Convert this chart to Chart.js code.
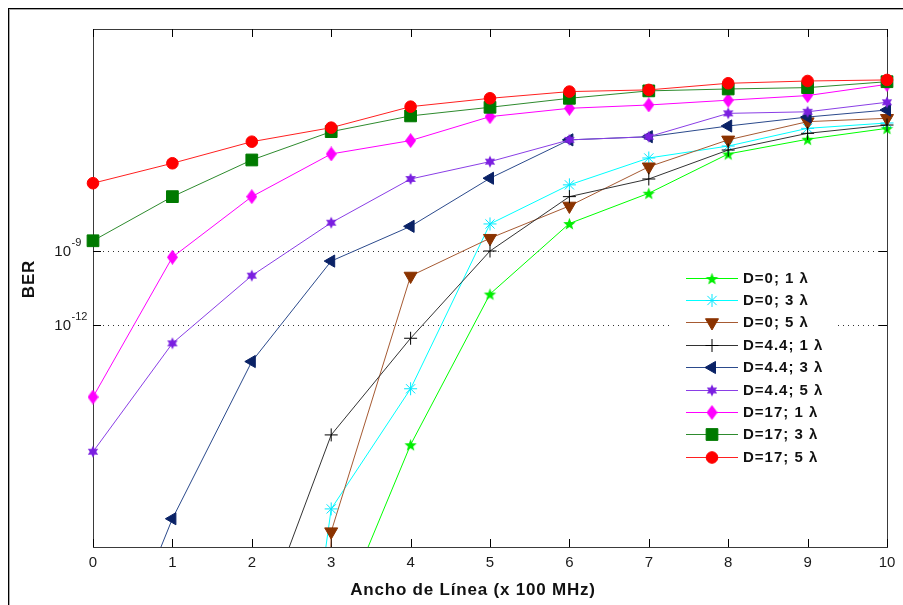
<!DOCTYPE html>
<html>
<head>
<meta charset="utf-8">
<script src="https://cdn.jsdelivr.net/npm/chart.js@4/dist/chart.umd.min.js"></script>
<style>
  html, body { margin: 0; padding: 0; background: #fff; }
  #wrap { position: relative; width: 903px; height: 605px; }
</style>
</head>
<body>
<div id="wrap"><canvas id="berChart" width="903" height="605"></canvas></div>
<script>
// Ancho de línea (x 100 MHz)
const anchoLinea = [0, 1, 2, 3, 4, 5, 6, 7, 8, 9, 10];
const yTicks = [1e-12, 1e-9];

// BER (null = fuera del gráfico)
const berD0L1  = [null, null, null, 2.5e-25, 1.4e-17, 1.8e-11, 1.3e-8, 2.2e-7, 8.6e-6, 3.4e-5, 9.4e-5];
const berD0L3  = [null, null, 3e-43, 3.5e-20, 2.6e-15, 1.25e-8, 4.8e-7, 5.9e-6, 1.8e-5, 9.4e-5, 1.55e-4];
const berD0L5  = [null, null, 1e-150, 4.2e-21, 9.7e-11, 3.3e-9, 6.7e-8, 2.6e-6, 3.2e-5, 1.75e-4, 2.4e-4];
const berD44L1 = [null, null, 8.7e-26, 3.5e-17, 2.9e-13, 1.0e-9, 1.6e-7, 8.3e-7, 1.24e-5, 5.9e-5, 1.28e-4];
const berD44L3 = [1.6e-28, 1.4e-20, 3.3e-14, 3.9e-10, 1.0e-8, 8.9e-7, 3.2e-5, 4.3e-5, 1.17e-4, 2.7e-4, 5.2e-4];
const berD44L5 = [7.3e-18, 1.8e-13, 1.0e-10, 1.4e-8, 8.3e-7, 4.2e-6, 3.2e-5, 4.3e-5, 3.8e-4, 4.4e-4, 1.07e-3];
const berD17L1 = [1.2e-15, 5.6e-10, 1.6e-7, 8.6e-6, 3.0e-5, 2.8e-4, 6.1e-4, 8.3e-4, 1.3e-3, 2.0e-3, 5.7e-3];
const berD17L3 = [2.6e-9, 1.6e-7, 4.9e-6, 6.9e-5, 3.0e-4, 6.7e-4, 1.55e-3, 3.1e-3, 3.7e-3, 4.2e-3, 7.3e-3];
const berD17L5 = [5.6e-7, 3.6e-6, 2.7e-5, 1.0e-4, 7.1e-4, 1.55e-3, 2.9e-3, 3.4e-3, 6.3e-3, 7.8e-3, 8.6e-3];

const serieNames = ['D=0; 1 λ', 'D=0; 3 λ', 'D=0; 5 λ', 'D=4.4; 1 λ', 'D=4.4; 3 λ',
                    'D=4.4; 5 λ', 'D=17; 1 λ', 'D=17; 3 λ', 'D=17; 5 λ'];

const FONT = '"Liberation Sans", Arial, sans-serif';

// marcadores tipo matlab que chart.js no trae
function makeStar(points, outer, inner, color) {
    const size = Math.ceil(outer * 2) + 2;
    const c = document.createElement('canvas');
    c.width = c.height = size;
    const g = c.getContext('2d');
    g.translate(size / 2, size / 2 + (points === 5 ? 0.8 : 0));
    g.beginPath();
    for (let i = 0; i < points * 2; i++) {
        const r = i % 2 ? inner : outer;
        const a = -Math.PI / 2 + i * Math.PI / points;
        g.lineTo(r * Math.cos(a), r * Math.sin(a));
    }
    g.closePath();
    g.fillStyle = color;
    g.fill();
    return c;
}
function makeDiamond(w, h, color) {
    const c = document.createElement('canvas');
    c.width = w; c.height = h;
    const g = c.getContext('2d');
    g.beginPath();
    g.moveTo(w / 2, 0); g.lineTo(w, h / 2); g.lineTo(w / 2, h); g.lineTo(0, h / 2);
    g.closePath();
    g.fillStyle = color;
    g.fill();
    return c;
}

const pentagram = makeStar(5, 6.5, 2.7, '#00ee00');
const hexagram = makeStar(6, 6, 3.2, '#7a1fe0');
const diamond = makeDiamond(11, 15, '#ff00ff');

function serie(i, data, line, marker, style, radius, rotation, bw) {
    return {
        label: serieNames[i],
        data: data,
        borderColor: line,
        borderWidth: 1,
        pointStyle: style,
        pointRadius: radius,
        pointRotation: rotation || 0,
        pointBackgroundColor: marker,
        pointBorderColor: marker,
        pointBorderWidth: bw || 1,
        tension: 0,
        order: 9 - i,
        clip: { left: 12, top: 12, right: 12, bottom: 0 }
    };
}

const datasets = [
    serie(0, berD0L1, '#00ff00', '#00ee00', pentagram, 6),
    serie(1, berD0L3, '#00ffff', '#00e8ff', 'star', 6.5),
    serie(2, berD0L5, '#a65a32', '#8b3300', 'triangle', 7.5, 180),
    serie(3, berD44L1, '#333333', '#000000', 'cross', 6.5),
    serie(4, berD44L3, '#2b4a8c', '#0a2266', 'triangle', 7, 270),
    serie(5, berD44L5, '#8a3ee6', '#7a1fe0', hexagram, 6),
    serie(6, berD17L1, '#ff00ff', '#ff00ff', diamond, 7),
    serie(7, berD17L3, '#2e8b2e', '#007a00', 'rect', 8.3),
    serie(8, berD17L5, '#ff2020', '#ff0000', 'circle', 5.8)
];

const figuraMatlab = {
    id: 'figuraMatlab',
    beforeDraw(chart) {
        const ctx = chart.ctx;
        ctx.save();
        ctx.fillStyle = '#fff';
        ctx.fillRect(0, 0, chart.width, chart.height);
        ctx.fillStyle = '#000';
        ctx.fillRect(8, 8, chart.width, 1);
        ctx.fillRect(8, 8, 1, chart.height);
        ctx.fillStyle = '#a8a8a8';
        ctx.fillRect(9, 9, chart.width, 1);
        ctx.fillRect(9, 9, 1, chart.height);
        ctx.restore();
    },
    beforeDatasetsDraw(chart) {
        const ctx = chart.ctx;
        const a = chart.chartArea;
        const xs = chart.scales.x, ys = chart.scales.y;
        ctx.save();
        // rejilla punteada
        ctx.strokeStyle = '#333';
        ctx.lineWidth = 1;
        ctx.setLineDash([1, 4]);
        yTicks.forEach(v => {
            const y = Math.round(ys.getPixelForValue(v)) + 0.5;
            ctx.beginPath(); ctx.moveTo(a.left, y); ctx.lineTo(a.right, y); ctx.stroke();
        });
        ctx.setLineDash([]);
        // caja
        ctx.strokeStyle = '#3a3a3a';
        ctx.strokeRect(Math.round(a.left) + 0.5, Math.round(a.top) + 0.5,
                       Math.round(a.right - a.left), Math.round(a.bottom - a.top));
        // marcas hacia adentro
        ctx.strokeStyle = '#000';
        ctx.beginPath();
        anchoLinea.forEach(v => {
            const x = Math.round(xs.getPixelForValue(v)) + 0.5;
            ctx.moveTo(x, a.bottom); ctx.lineTo(x, a.bottom - 8);
            ctx.moveTo(x, a.top); ctx.lineTo(x, a.top + 8);
        });
        yTicks.forEach(v => {
            const y = Math.round(ys.getPixelForValue(v)) + 0.5;
            ctx.moveTo(a.left, y); ctx.lineTo(a.left + 8, y);
            ctx.moveTo(a.right, y); ctx.lineTo(a.right - 8, y);
        });
        ctx.stroke();
        ctx.restore();
    },
    afterDatasetsDraw(chart) {
        // leyenda
        const ctx = chart.ctx;
        ctx.save();
        ctx.fillStyle = '#fff';
        ctx.fillRect(673, 264, 162, 206);
        chart.data.datasets.forEach((ds, i) => {
            const y = 277.5 + i * 22.4;
            ctx.strokeStyle = ds.borderColor;
            ctx.lineWidth = 1;
            ctx.beginPath(); ctx.moveTo(686, Math.round(y) + 0.5); ctx.lineTo(738, Math.round(y) + 0.5); ctx.stroke();
            ctx.fillStyle = ds.pointBackgroundColor;
            ctx.strokeStyle = ds.pointBorderColor;
            ctx.lineWidth = ds.pointBorderWidth;
            Chart.helpers.drawPoint(ctx, {
                pointStyle: ds.pointStyle, rotation: ds.pointRotation,
                radius: ds.pointRadius, borderWidth: ds.pointBorderWidth
            }, 712, Math.round(y) + 0.5);
            ctx.fillStyle = '#111';
            ctx.font = 'bold 15px ' + FONT;
            ctx.letterSpacing = '1px';
            ctx.textBaseline = 'middle';
            ctx.textAlign = 'left';
            ctx.fillText(ds.label, 743, y + 1);
        });
        ctx.restore();
    },
    afterDraw(chart) {
        const ctx = chart.ctx;
        const ys = chart.scales.y;
        ctx.save();
        ctx.fillStyle = '#1a1a1a';
        // etiquetas 10^n
        yTicks.forEach(v => {
            const y = ys.getPixelForValue(v);
            const exp = Math.round(Math.log10(v));
            ctx.font = '15px ' + FONT;
            ctx.textAlign = 'right';
            ctx.textBaseline = 'middle';
            ctx.fillText('10', 71, y + 1);
            ctx.font = '11px ' + FONT;
            ctx.textAlign = 'left';
            ctx.fillText('-' + Math.abs(exp), 71.5, y - 8);
        });
        // títulos
        ctx.fillStyle = '#111';
        ctx.font = 'bold 17px ' + FONT;
        ctx.letterSpacing = '0.8px';
        ctx.textAlign = 'center';
        ctx.textBaseline = 'middle';
        ctx.fillText('Ancho de Línea (x 100 MHz)', 473, 590);
        ctx.translate(29, 279);
        ctx.rotate(-Math.PI / 2);
        ctx.fillText('BER', 0, 0);
        ctx.restore();
    }
};

new Chart(document.getElementById('berChart'), {
    type: 'line',
    data: { labels: anchoLinea, datasets: datasets },
    options: {
        responsive: false,
        animation: false,
        events: [],
        devicePixelRatio: 1,
        layout: { padding: { top: 29, left: 0, right: 16, bottom: 0 } },
        plugins: { legend: { display: false }, tooltip: { enabled: false } },
        scales: {
            x: {
                type: 'linear',
                min: 0, max: 10,
                grid: { display: false, drawTicks: false },
                border: { display: false },
                ticks: { stepSize: 1, padding: 7, color: '#1a1a1a', font: { family: FONT, size: 15 } },
                afterFit(s) { s.height = 58; s.paddingLeft = 0; s.paddingRight = 0; }
            },
            y: {
                type: 'logarithmic',
                min: 1e-21, max: 1,
                grid: { display: false, drawTicks: false },
                border: { display: false },
                ticks: { display: false },
                afterFit(s) { s.width = 93; s.paddingTop = 0; s.paddingBottom = 0; }
            }
        }
    },
    plugins: [figuraMatlab]
});
</script>
</body>
</html>
